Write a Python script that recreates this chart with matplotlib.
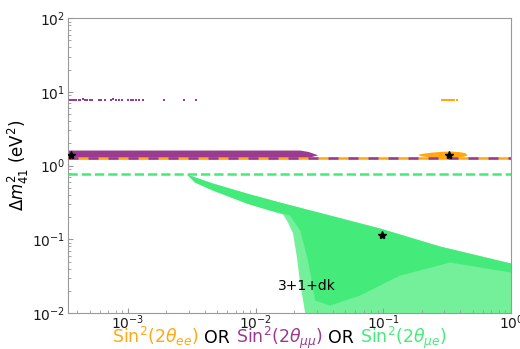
import matplotlib
matplotlib.use("Agg")
import matplotlib.pyplot as plt
from matplotlib.offsetbox import TextArea, HPacker, AnchoredOffsetbox

ORANGE = '#ffa812'
PURPLE = '#9b3a8e'
GREEN = '#45eb7a'

# best-fit dm2 lines
dm2_ee_mumu = 1.25
dm2_mue = 0.77

# best-fit points (sin2, dm2)
star_x = [3.55e-4, 0.327, 0.097]
star_y = [1.39, 1.41, 0.116]

# sin2(2theta_mumu) allowed band
mumu_band_x = [3.0e-4, 0.0223, 0.0260, 0.0308, 0.0260, 0.0223, 3.0e-4]
mumu_band_y = [1.60, 1.60, 1.53, 1.38, 1.27, 1.22, 1.22]

# isolated sin2(2theta_mumu) points near 8 eV2
mumu_hi_x = [3.52e-4, 3.62e-4, 3.75e-4, 3.9e-4, 4.1e-4, 4.22e-4, 4.45e-4, 4.6e-4,
             4.8e-4, 5.05e-4, 5.25e-4, 5.9e-4, 6.2e-4, 6.6e-4, 7.3e-4, 7.7e-4,
             8.0e-4, 8.5e-4, 8.9e-4, 1.0e-3, 1.05e-3, 1.1e-3, 1.16e-3, 1.22e-3,
             1.3e-3, 1.92e-3, 2.75e-3, 3.4e-3]
mumu_hi_y = [7.8, 7.7, 7.85, 7.8, 7.75, 7.8, 7.9, 7.8,
             7.75, 7.8, 7.85, 7.8, 7.7, 7.8, 7.8, 7.9,
             7.75, 7.8, 7.8, 7.85, 7.8, 7.75, 7.8, 7.85,
             7.8, 7.75, 7.8, 7.8]

# sin2(2theta_ee) allowed region
ee_blob_x = [0.187, 0.205, 0.24, 0.29, 0.34, 0.40, 0.44, 0.455, 0.43, 0.37, 0.30, 0.24, 0.20]
ee_blob_y = [1.40, 1.45, 1.50, 1.54, 1.55, 1.52, 1.47, 1.38, 1.32, 1.28, 1.27, 1.29, 1.33]
ee_hi_x = [0.286, 0.30, 0.31, 0.32, 0.33, 0.345, 0.36, 0.376]
ee_hi_y = [7.8, 7.8, 7.75, 7.85, 7.8, 7.8, 7.75, 7.8]

# sin2(2theta_mue): outer envelope and densely sampled part
mue_all_x = [2.90e-3, 4.64e-3, 8.57e-3, 0.0155, 0.0383, 0.0942, 0.278, 1.0,
             1.0, 0.0244, 0.0235, 0.0223, 0.0211, 0.0196, 0.0179, 0.0164,
             0.0130, 8.57e-3, 4.64e-3, 3.35e-3]
mue_all_y = [0.755, 0.570, 0.417, 0.315, 0.210, 0.140, 0.0798, 0.0469,
             0.01, 0.01, 0.0148, 0.0251, 0.0548, 0.120, 0.169, 0.217,
             0.245, 0.305, 0.458, 0.588]
mue_dense_x = [2.90e-3, 4.64e-3, 8.57e-3, 0.0155, 0.0383, 0.0942, 0.278, 1.0,
               1.0, 0.333, 0.135, 0.0657, 0.0383, 0.0292, 0.0257, 0.0223,
               0.01858, 0.0130, 8.57e-3, 4.64e-3, 3.35e-3]
mue_dense_y = [0.755, 0.570, 0.417, 0.315, 0.210, 0.140, 0.0798, 0.0469,
               0.0354, 0.0484, 0.0322, 0.0173, 0.0126, 0.0148, 0.0515, 0.1315,
               0.210, 0.245, 0.305, 0.458, 0.588]

fig = plt.figure(figsize=(5.2, 3.49), dpi=100)
ax = fig.add_axes([0.131, 0.103, 0.852, 0.845])
ax.set_xscale('log')
ax.set_yscale('log')

ax.fill(mue_all_x, mue_all_y, color=GREEN, alpha=0.75, lw=0, zorder=1)
ax.fill(mue_dense_x, mue_dense_y, color=GREEN, lw=0, zorder=1)
ax.fill(mumu_band_x, mumu_band_y, color=PURPLE, lw=0, zorder=2)
ax.plot(mumu_hi_x, mumu_hi_y, 's', ms=1.6, mew=0, color=PURPLE, zorder=2)
ax.fill(ee_blob_x, ee_blob_y, color=ORANGE, lw=0, zorder=2)
ax.plot(ee_hi_x, ee_hi_y, 's', ms=1.6, mew=0, color=ORANGE, zorder=2)

ax.axhline(dm2_ee_mumu, color=ORANGE, lw=1.8, zorder=3)
ax.axhline(dm2_ee_mumu, color=PURPLE, lw=1.8, ls=(0, (4, 4)), zorder=3)
ax.axhline(dm2_mue, color=GREEN, lw=1.8, ls='--', zorder=3)

ax.plot(star_x, star_y, '*', color='black', ms=6, zorder=4)

ax.text(0.015, 0.0236, '3+1+dk', fontsize=10, ha='left', va='center', zorder=5)

ax.set_xlim(3.4e-4, 1.0)
ax.set_ylim(1e-2, 1e2)

for s in ax.spines.values():
    s.set_color('0.6')
ax.tick_params(which='both', direction='in', color='0.6', labelsize=10, labelcolor='0.1')
ax.tick_params(which='major', length=3.5)
ax.tick_params(which='minor', length=2)
ax.tick_params(axis='x', which='both', pad=0.5)
ax.tick_params(axis='y', which='both', pad=2)

ax.set_ylabel(r'$\Delta m^2_{41}$ (eV$^2$)', fontsize=12, labelpad=1)

# colour-coded x label
parts = [(r'Sin$^2(2\theta_{ee})$', ORANGE), ('OR', 'black'),
         (r'Sin$^2(2\theta_{\mu\mu})$', PURPLE), ('OR', 'black'),
         (r'Sin$^2(2\theta_{\mu e})$', GREEN)]
boxes = [TextArea(t, textprops=dict(color=c, fontsize=12.5)) for t, c in parts]
row = HPacker(children=boxes, align='baseline', pad=0, sep=4)
xlab = AnchoredOffsetbox(loc='center', child=row, pad=0, borderpad=0, frameon=False,
                         bbox_to_anchor=(0.5375, 0.032), bbox_transform=fig.transFigure)
fig.add_artist(xlab)

fig.savefig('out.png', dpi=100)
